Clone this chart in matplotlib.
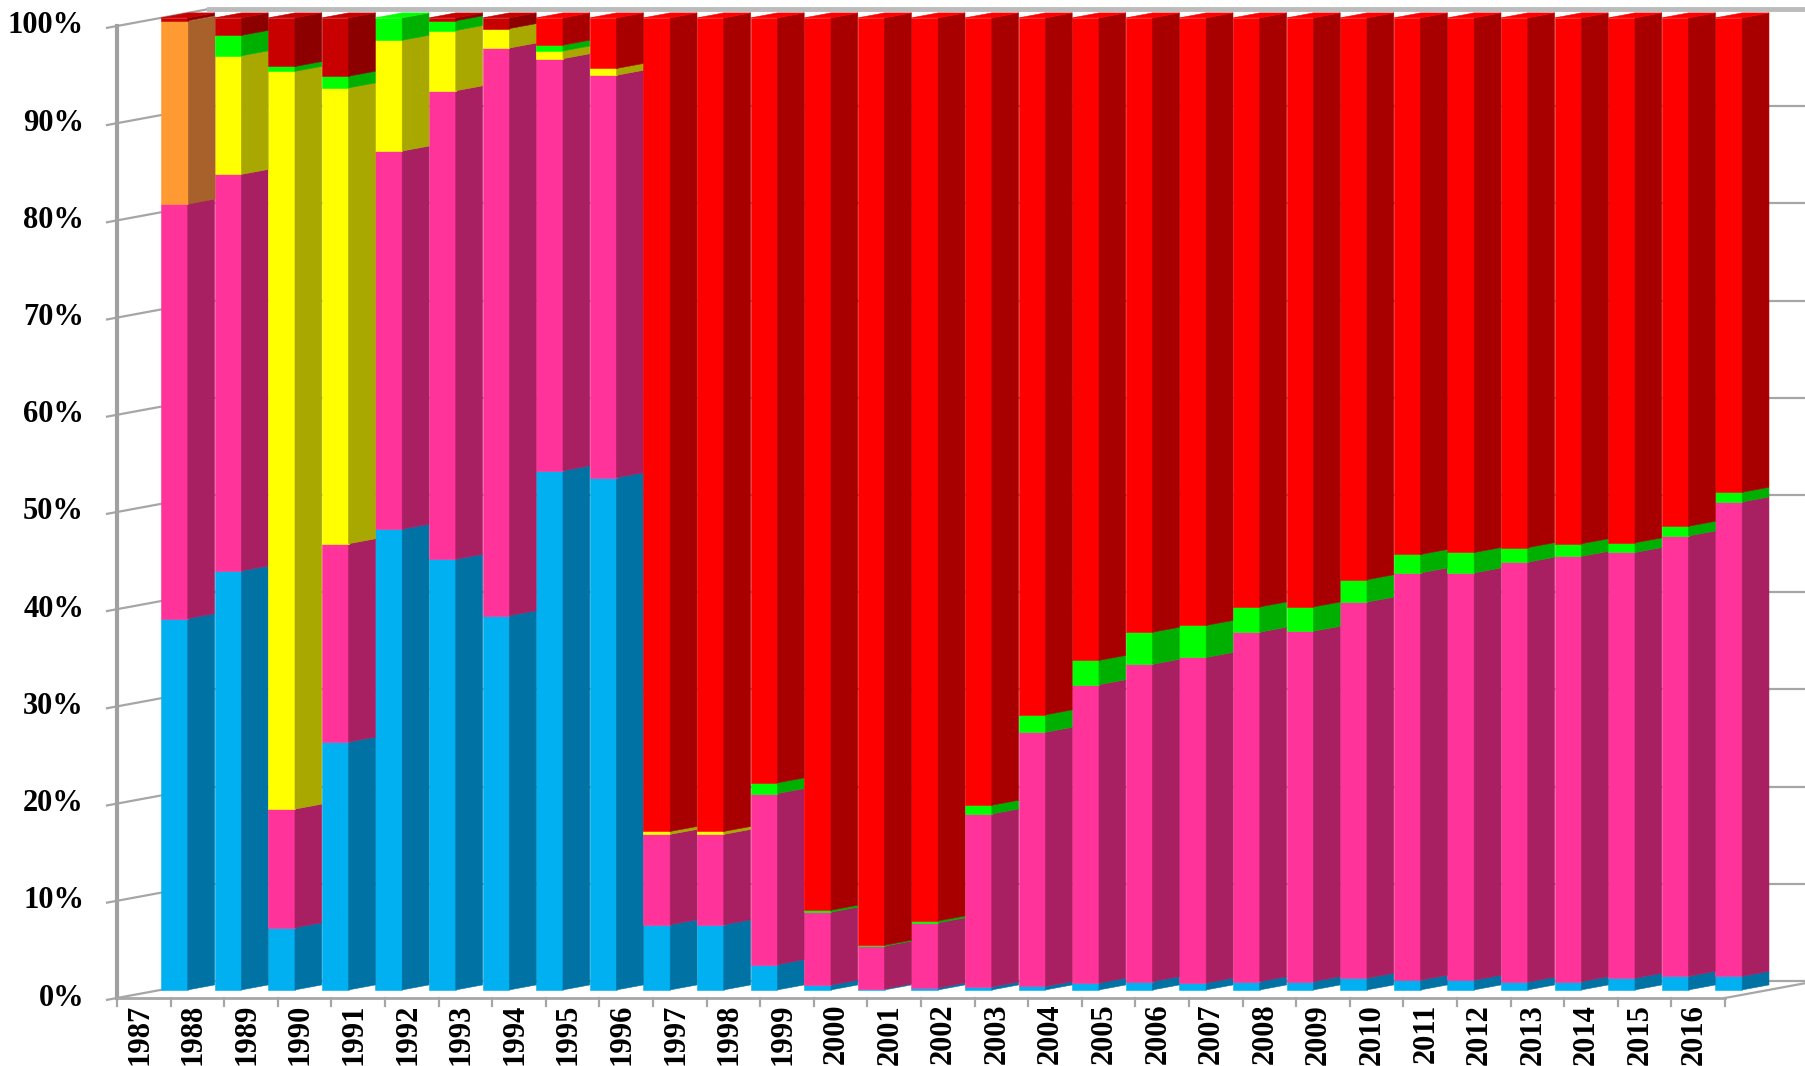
import numpy as np
import matplotlib
matplotlib.use("Agg")
import matplotlib.pyplot as plt
from matplotlib.collections import PolyCollection

# ---------------- data (percent shares, bottom -> top) ----------------
years = list(range(1987, 2017))
blue = [38.2, 43.1, 6.4, 25.5, 47.4, 44.3, 38.5, 53.4, 52.7, 6.7,
        6.7, 2.6, 0.5, 0.1, 0.2, 0.3, 0.35, 0.7, 0.85, 0.7,
        0.85, 0.85, 1.2, 1.0, 1.0, 0.8, 0.85, 1.2, 1.4, 1.4]
pink = [42.7, 40.8, 12.2, 20.4, 38.9, 48.2, 58.4, 42.4, 41.4, 9.3,
        9.3, 17.6, 7.5, 4.4, 6.7, 17.8, 26.15, 30.7, 32.65, 33.5,
        35.95, 36.05, 38.7, 41.9, 41.9, 43.2, 43.75, 43.8, 45.3, 48.8]
yellow = [0.0, 12.2, 75.9, 46.9, 11.4, 6.2, 2.0, 0.8, 0.7, 0.3,
          0.3, 0.0, 0.0, 0.0, 0.0, 0.0, 0.0, 0.0, 0.0, 0.0,
          0.0, 0.0, 0.0, 0.0, 0.0, 0.0, 0.0, 0.0, 0.0, 0.0]
orange = [18.8, 0.0, 0.0, 0.0, 0.0, 0.0, 0.0, 0.0, 0.0, 0.0,
          0.0, 0.0, 0.0, 0.0, 0.0, 0.0, 0.0, 0.0, 0.0, 0.0,
          0.0, 0.0, 0.0, 0.0, 0.0, 0.0, 0.0, 0.0, 0.0, 0.0]
green = [0.0, 2.1, 0.5, 1.2, 2.3, 1.0, 0.0, 0.6, 0.0, 0.0,
         0.0, 1.1, 0.2, 0.1, 0.2, 0.9, 1.8, 2.5, 3.3, 3.3,
         2.6, 2.5, 2.3, 1.9, 2.1, 1.5, 1.3, 1.0, 1.0, 1.0]
red = [0.0, 0.0, 0.0, 0.0, 0.0, 0.0, 0.0, 2.8, 5.2, 83.7,
       83.7, 78.7, 91.8, 95.4, 92.9, 81.0, 71.7, 66.1, 63.2, 62.5,
       60.6, 60.6, 57.8, 55.2, 55.0, 54.5, 54.1, 54.0, 52.3, 48.8]
darkred = [0.3, 1.8, 5.0, 6.0, 0.0, 0.3, 1.1, 0.0, 0.0, 0.0,
           0.0, 0.0, 0.0, 0.0, 0.0, 0.0, 0.0, 0.0, 0.0, 0.0,
           0.0, 0.0, 0.0, 0.0, 0.0, 0.0, 0.0, 0.0, 0.0, 0.0]
ytick_values = [0, 10, 20, 30, 40, 50, 60, 70, 80, 90, 100]
ytick_labels = [f"{v}%" for v in ytick_values]

series = [
    (blue, "#00B0F0", "#0072A3"),
    (pink, "#FF3399", "#A81F62"),
    (yellow, "#FFFF00", "#A8A800"),
    (orange, "#FF9A33", "#A8612A"),
    (green, "#00FF00", "#00B000"),
    (red, "#FF0000", "#A80000"),
    (darkred, "#C80000", "#8C0000"),
]

# ---------------- pseudo-3D geometry (in data units) ----------------
PX_CAT = 53.6   # pixels per category
PX_PCT = 9.72   # pixels per percent
X_AX, Y_AX = 117, 998   # pixel position of the front-left-bottom corner
DX = 92 / PX_CAT        # full depth shift (categories)
DY = 17 / PX_PCT        # full depth rise (percent)
T0 = 0.478              # depth of bar front faces
X0, Y0 = T0 * DX, T0 * DY
W = 0.5                 # front face width
SX = 0.5                # side face horizontal extent
SY = SX / DX * DY       # side face rise

fig = plt.figure(figsize=(18.06, 10.66), dpi=100)
ax = fig.add_axes([0, 0, 1, 1])
ax.set_xlim(-X_AX / PX_CAT, (1806 - X_AX) / PX_CAT)
ax.set_ylim(-(1066 - Y_AX) / PX_PCT, Y_AX / PX_PCT)
ax.axis("off")

n = len(years)
x = np.arange(n)
grid_c = "#A6A6A6"
ncat = n

# walls / floor / gridlines
tick_len = 10 / PX_CAT
for v in ytick_values:
    ax.plot([-tick_len, DX], [v - tick_len * DY / DX, v + DY], color=grid_c, lw=1.6, zorder=1)
    ax.plot([DX, ncat + DX + 2], [v + DY, v + DY], color=grid_c, lw=1.6, zorder=1)
ax.plot([DX, ncat + DX + 2], [100 + DY, 100 + DY], color="#BBBBBB", lw=3.5, zorder=1)
ax.plot([0, 0], [0, 100], color="#A0A0A0", lw=3, zorder=1)
ax.plot([0, ncat], [0, 0], color=grid_c, lw=2, zorder=1)
ax.plot([ncat, ncat + DX], [0, DY], color=grid_c, lw=1.6, zorder=1)
ax.plot([DX, ncat + DX + 2], [DY, DY], color=grid_c, lw=1.2, zorder=1)
for k in range(ncat + 1):
    ax.plot([k, k], [0, -0.8], color=grid_c, lw=1.6, zorder=1)

# bars
bottom = np.zeros(n)
for vals, front, side in series:
    vals = np.asarray(vals, dtype=float)
    mask = vals > 0
    ax.bar(x[mask] + X0, vals[mask], width=W, bottom=bottom[mask] + Y0, align="edge",
           color=front, edgecolor=front, linewidth=0.4, zorder=3)
    polys = []
    for k in np.where(mask)[0]:
        xr = k + X0 + W
        b = bottom[k] + Y0
        t = bottom[k] + vals[k] + Y0
        polys.append([(xr, b), (xr + SX, b + SY), (xr + SX, t + SY), (xr, t)])
    ax.add_collection(PolyCollection(polys, facecolors=side, edgecolors=side,
                                     linewidths=0.4, zorder=3))
    bottom = bottom + vals

# top faces
tops = []
top_colors = []
for k in range(n):
    top_c = None
    for vals, front, side in series:
        if vals[k] > 0:
            top_c = front
    xl = k + X0
    t = bottom[k] + Y0
    tops.append([(xl, t), (xl + W, t), (xl + W + SX, t + SY), (xl + SX, t + SY)])
    top_colors.append(top_c)
ax.add_collection(PolyCollection(tops, facecolors=top_colors, edgecolors=top_colors,
                                 linewidths=0.4, zorder=3))

# labels
font = dict(family=["Liberation Serif", "DejaVu Serif"], fontweight="bold", fontsize=22)
for v, lab in zip(ytick_values, ytick_labels):
    ax.text(-33 / PX_CAT, v, lab, ha="right", va="center", **font)
for k, yr in enumerate(years):
    ax.text(k + 0.42, -0.6, str(yr), rotation=90, ha="center", va="top", **font)

fig.savefig("out.png", dpi=100)
